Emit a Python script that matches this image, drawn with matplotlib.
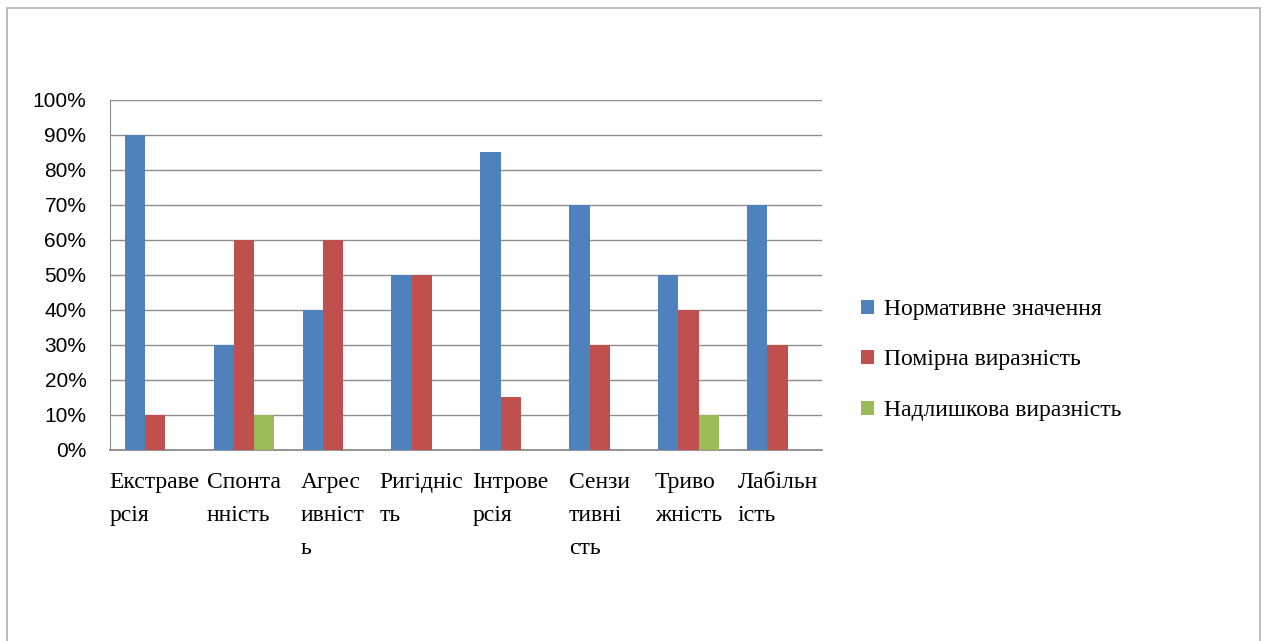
import matplotlib.pyplot as plt
from matplotlib.patches import Rectangle
from matplotlib.ticker import FuncFormatter
import numpy as np

# Шкали та відсоток досліджуваних
categories = [
    "Екстраве\nрсія", "Спонта\nнність", "Агрес\nивніст\nь", "Ригідніс\nть",
    "Інтрове\nрсія", "Сензи\nтивні\nсть", "Триво\nжність", "Лабільн\nість",
]
series_names = ["Нормативне значення", "Помірна виразність", "Надлишкова виразність"]
normative = [90, 30, 40, 50, 85, 70, 50, 70]
moderate = [10, 60, 60, 50, 15, 30, 40, 30]
excessive = [0, 10, 0, 0, 0, 0, 10, 0]

colors = ["#4F81BD", "#C0504D", "#9BBB59"]
serif = ["Liberation Serif", "DejaVu Serif"]

fig = plt.figure(figsize=(12.65, 6.41), dpi=100)
ax = fig.add_axes([0.0870, 0.2980, 0.5628, 0.5460])

# рамка області діаграми
fig.patches.append(Rectangle((7 / 1265, -0.05), 1253 / 1265, 1.05 - 8 / 641,
                             transform=fig.transFigure, fill=False,
                             edgecolor="#b0b0b0", linewidth=1.2))

x = np.arange(len(categories))
w = 0.225
handles = []
for k, vals in enumerate([normative, moderate, excessive]):
    b = ax.bar(x + (k - 1) * w, vals, width=w, color=colors[k],
               label=series_names[k], zorder=3)
    handles.append(b)

ax.set_xlim(-0.5, len(categories) - 0.5)
ax.set_ylim(0, 100)
ax.set_yticks(range(0, 101, 10))
ax.yaxis.set_major_formatter(FuncFormatter(lambda v, _: f"{int(v)}%"))
ax.grid(axis="y", color="#8c8c8c", linewidth=1, zorder=0)

for side in ["top", "right"]:
    ax.spines[side].set_visible(False)
ax.spines["left"].set_color("#8c8c8c")
ax.spines["bottom"].set_color("#8c8c8c")
ax.spines["bottom"].set_linewidth(1.3)

ax.tick_params(axis="y", length=0, pad=17, labelsize=15)
for t in ax.get_yticklabels():
    t.set_fontfamily(["Liberation Sans", "DejaVu Sans"])

ax.set_xticks(x)
ax.set_xticklabels(categories, fontsize=17, fontfamily=serif, linespacing=1.75)
ax.tick_params(axis="x", length=0, pad=16)
for t in ax.get_xticklabels():
    t.set_multialignment("left")

fig.legend(handles=handles, loc="center left",
           bbox_to_anchor=(861 / 1265, 1 - 360 / 641),
           frameon=False, prop={"family": serif, "size": 17},
           handlelength=0.55, handleheight=0.55, handletextpad=0.42,
           labelspacing=1.25, borderpad=0, borderaxespad=0)

fig.savefig("out.png", dpi=100)
